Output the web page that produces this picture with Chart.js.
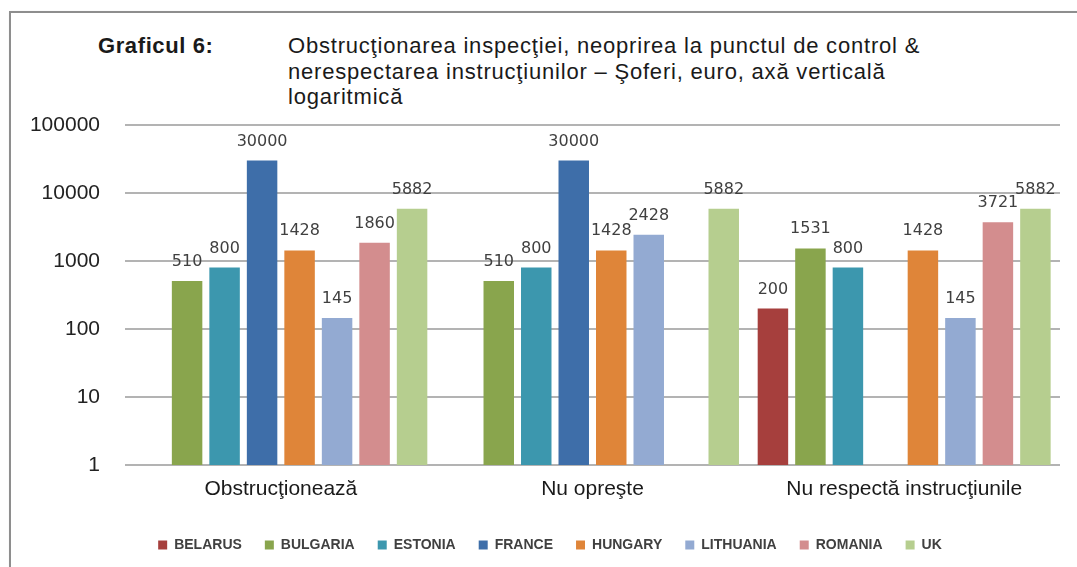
<!DOCTYPE html>
<html>
<head>
<meta charset="utf-8">
<script src="https://cdn.jsdelivr.net/npm/chart.js@4.4.0/dist/chart.umd.min.js"></script>
<style>
    html, body { margin: 0; padding: 0; background: #fff; overflow: hidden; }
    #wrap { position: relative; width: 1077px; height: 567px; overflow: hidden; }
    #frame { position: absolute; left: 9px; top: 11px; width: 1200px; height: 700px; border: 2px solid #8e8e8e; box-shadow: 1px 1px 2px rgba(0,0,0,0.25); }
    #grafico { position: absolute; left: 0; top: 0; }
    .titlu { position: absolute; font-family: "Liberation Sans", Arial, sans-serif; color: #1a1a1a; font-size: 22px; line-height: 25.5px; letter-spacing: 0.8px; white-space: nowrap; }
    .titlu b { letter-spacing: 0.6px; }
</style>
</head>
<body>
<div id="wrap">
    <div id="frame"></div>
    <div class="titlu" style="left:98px;top:33px;"><b>Graficul 6:</b></div>
    <div class="titlu" style="left:288px;top:33px;">Obstrucţionarea inspecţiei, neoprirea la punctul de control &amp;<br>nerespectarea instrucţiunilor – Şoferi, euro, axă verticală<br>logaritmică</div>
    <canvas id="grafico" width="1077" height="567"></canvas>
</div>
<script>
// categorii si valori (euro)
const categorii = ['Obstrucţionează', 'Nu opreşte', 'Nu respectă instrucţiunile'];
const tari      = ['BELARUS', 'BULGARIA', 'ESTONIA', 'FRANCE', 'HUNGARY', 'LITHUANIA', 'ROMANIA', 'UK'];
const culori    = ['#a63f3d', '#89a54d', '#3c97ae', '#3e6ea9', '#df8539', '#93aad2', '#d38d8e', '#b6ce8f'];

const belarus   = [null, null, 200];
const bulgaria  = [510, 510, 1531];
const estonia   = [800, 800, 800];
const france    = [30000, 30000, null];
const hungary   = [1428, 1428, 1428];
const lithuania = [145, 2428, 145];
const romania   = [1860, null, 3721];
const uk        = [5882, 5882, 5882];

const yTicks = [1, 10, 100, 1000, 10000, 100000];

const serii = [belarus, bulgaria, estonia, france, hungary, lithuania, romania, uk];

// etichete cu valoarea deasupra fiecarei bare
const eticheteValori = {
    id: 'eticheteValori',
    afterDatasetsDraw(chart) {
        const ctx = chart.ctx;
        ctx.save();
        ctx.font = '16px "DejaVu Sans", sans-serif';
        ctx.fillStyle = '#404040';
        ctx.textAlign = 'center';
        ctx.textBaseline = 'alphabetic';
        chart.data.datasets.forEach((ds, i) => {
            chart.getDatasetMeta(i).data.forEach((bar, j) => {
                const v = ds.data[j];
                if (v == null) return;
                ctx.fillText(String(v), bar.x, bar.y - 15);
            });
        });
        ctx.restore();
    }
};

// legenda e putin mutata spre dreapta in original
const mutaLegenda = {
    id: 'mutaLegenda',
    afterLayout(chart) {
        chart.legend.left += 20;
        chart.legend.right += 20;
    }
};

new Chart(document.getElementById('grafico'), {
    type: 'bar',
    data: {
        labels: categorii,
        datasets: tari.map((t, i) => ({
            label: t,
            data: serii[i],
            backgroundColor: culori[i],
            borderWidth: 0,
            categoryPercentage: 0.9625,
            barPercentage: 0.813
        }))
    },
    options: {
        responsive: false,
        animation: false,
        layout: { padding: { left: 0, right: 17, top: 125, bottom: 5 } },
        plugins: {
            tooltip: { enabled: false },
            legend: {
                position: 'bottom',
                labels: {
                    boxWidth: 9,
                    boxHeight: 9,
                    padding: 23,
                    color: '#404040',
                    font: { family: '"Liberation Sans", Arial, sans-serif', size: 14, weight: 'bold' }
                }
            }
        },
        scales: {
            x: {
                grid: { display: false, drawTicks: false },
                border: { display: false },
                ticks: {
                    color: '#1a1a1a',
                    padding: 12,
                    font: { family: '"Liberation Sans", Arial, sans-serif', size: 21 }
                },
                afterFit: s => { s.height = 50; }
            },
            y: {
                type: 'logarithmic',
                min: 1,
                max: 100000,
                afterBuildTicks: s => { s.ticks = yTicks.map(v => ({ value: v })); },
                grid: { color: '#b3b3b3', lineWidth: 2, drawTicks: false },
                border: { display: false },
                ticks: {
                    color: '#222',
                    padding: 25,
                    font: { family: '"Liberation Sans", Arial, sans-serif', size: 21 },
                    callback: v => String(v)
                },
                afterFit: s => { s.width = 125; }
            }
        }
    },
    plugins: [eticheteValori, mutaLegenda]
});
</script>
</body>
</html>
